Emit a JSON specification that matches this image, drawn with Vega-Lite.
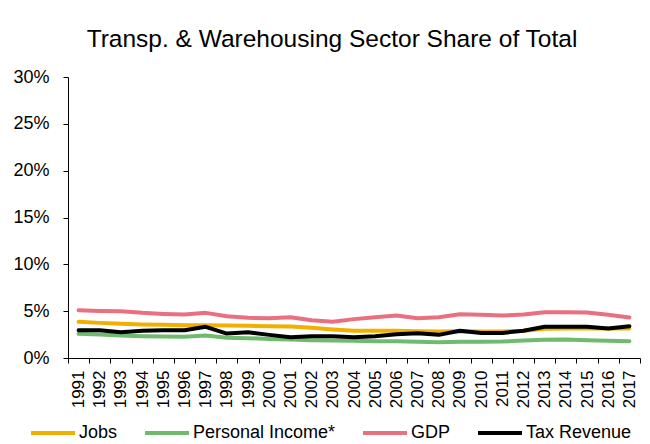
{
  "$schema": "https://vega.github.io/schema/vega-lite/v6.json",
  "width": 572,
  "height": 281,
  "autosize": "none",
  "padding": {"left": 68, "top": 77, "right": 10, "bottom": 86},
  "background": "white",
  "title": {
    "text": "Transp. & Warehousing Sector Share of Total",
    "font": "Liberation Sans",
    "fontSize": 24.5,
    "fontWeight": "normal",
    "color": "black",
    "anchor": "middle",
    "dx": -22,
    "offset": 16
  },
  "datasets": {
    "wide": [
      {"year": "1991", "Jobs": 0.0386, "PI": 0.0258, "GDP": 0.0510, "Tax": 0.0297},
      {"year": "1992", "Jobs": 0.0375, "PI": 0.0251, "GDP": 0.0503, "Tax": 0.0297},
      {"year": "1993", "Jobs": 0.0365, "PI": 0.0240, "GDP": 0.0500, "Tax": 0.0275},
      {"year": "1994", "Jobs": 0.0358, "PI": 0.0233, "GDP": 0.0482, "Tax": 0.0290},
      {"year": "1995", "Jobs": 0.0354, "PI": 0.0229, "GDP": 0.0471, "Tax": 0.0297},
      {"year": "1996", "Jobs": 0.0350, "PI": 0.0226, "GDP": 0.0464, "Tax": 0.0297},
      {"year": "1997", "Jobs": 0.0350, "PI": 0.0240, "GDP": 0.0482, "Tax": 0.0333},
      {"year": "1998", "Jobs": 0.0347, "PI": 0.0215, "GDP": 0.0446, "Tax": 0.0261},
      {"year": "1999", "Jobs": 0.0343, "PI": 0.0212, "GDP": 0.0429, "Tax": 0.0275},
      {"year": "2000", "Jobs": 0.0340, "PI": 0.0204, "GDP": 0.0425, "Tax": 0.0247},
      {"year": "2001", "Jobs": 0.0336, "PI": 0.0197, "GDP": 0.0436, "Tax": 0.0222},
      {"year": "2002", "Jobs": 0.0322, "PI": 0.0190, "GDP": 0.0404, "Tax": 0.0233},
      {"year": "2003", "Jobs": 0.0304, "PI": 0.0187, "GDP": 0.0386, "Tax": 0.0233},
      {"year": "2004", "Jobs": 0.0290, "PI": 0.0183, "GDP": 0.0415, "Tax": 0.0222},
      {"year": "2005", "Jobs": 0.0290, "PI": 0.0180, "GDP": 0.0436, "Tax": 0.0233},
      {"year": "2006", "Jobs": 0.0290, "PI": 0.0180, "GDP": 0.0454, "Tax": 0.0254},
      {"year": "2007", "Jobs": 0.0286, "PI": 0.0173, "GDP": 0.0425, "Tax": 0.0265},
      {"year": "2008", "Jobs": 0.0283, "PI": 0.0169, "GDP": 0.0436, "Tax": 0.0247},
      {"year": "2009", "Jobs": 0.0286, "PI": 0.0173, "GDP": 0.0468, "Tax": 0.0290},
      {"year": "2010", "Jobs": 0.0283, "PI": 0.0173, "GDP": 0.0461, "Tax": 0.0268},
      {"year": "2011", "Jobs": 0.0283, "PI": 0.0176, "GDP": 0.0454, "Tax": 0.0268},
      {"year": "2012", "Jobs": 0.0290, "PI": 0.0187, "GDP": 0.0464, "Tax": 0.0290},
      {"year": "2013", "Jobs": 0.0311, "PI": 0.0194, "GDP": 0.0489, "Tax": 0.0333},
      {"year": "2014", "Jobs": 0.0315, "PI": 0.0197, "GDP": 0.0489, "Tax": 0.0333},
      {"year": "2015", "Jobs": 0.0318, "PI": 0.0190, "GDP": 0.0486, "Tax": 0.0333},
      {"year": "2016", "Jobs": 0.0315, "PI": 0.0183, "GDP": 0.0461, "Tax": 0.0315},
      {"year": "2017", "Jobs": 0.0315, "PI": 0.0180, "GDP": 0.0432, "Tax": 0.0340}
    ]
  },
  "data": {"name": "wide"},
  "transform": [
    {"fold": ["Jobs", "PI", "GDP", "Tax"], "as": ["key", "value"]},
    {"lookup": "key", "from": {"data": {"values": [
      {"key": "Jobs", "series": "Jobs"},
      {"key": "PI", "series": "Personal Income*"},
      {"key": "GDP", "series": "GDP"},
      {"key": "Tax", "series": "Tax Revenue"}
    ]}, "key": "key", "fields": ["series"]}}
  ],
  "mark": {"type": "line", "strokeJoin": "round", "strokeCap": "round"},
  "encoding": {
    "x": {
      "field": "year",
      "type": "ordinal",
      "scale": {"type": "band", "paddingInner": 0, "paddingOuter": 0},
      "axis": {
        "title": null,
        "labelAngle": -90,
        "labelFontSize": 17,
        "tickBand": "extent",
        "tickSize": 5,
        "labelPadding": 7
      }
    },
    "y": {
      "field": "value",
      "type": "quantitative",
      "scale": {"domain": [0, 0.3], "nice": false},
      "axis": {
        "title": null,
        "values": [0, 0.05, 0.1, 0.15, 0.2, 0.25, 0.3],
        "format": ".0%",
        "grid": false,
        "labelFontSize": 18,
        "tickSize": 5,
        "labelPadding": 14
      }
    },
    "color": {
      "field": "series",
      "type": "nominal",
      "scale": {
        "domain": ["Jobs", "Personal Income*", "GDP", "Tax Revenue"],
        "range": ["#F2AF00", "#6EBB6E", "#E8707F", "#000000"]
      },
      "legend": {
        "title": null,
        "orient": "none",
        "direction": "horizontal",
        "legendX": -39,
        "legendY": 332,
        "symbolType": "stroke",
        "symbolSize": 1936,
        "symbolStrokeWidth": 5,
        "labelFontSize": 18,
        "labelOffset": 2,
        "columnPadding": 19,
        "labelFont": "Liberation Sans",
        "labelColor": "black"
      }
    },
    "strokeWidth": {
      "field": "series",
      "type": "nominal",
      "scale": {
        "domain": ["Jobs", "Personal Income*", "GDP", "Tax Revenue"],
        "range": [4, 4, 4, 5]
      },
      "legend": null
    },
    "order": {"field": "year"}
  },
  "config": {
    "font": "Liberation Sans",
    "view": {"stroke": null},
    "axis": {
      "labelFont": "Liberation Sans",
      "labelColor": "black",
      "domainColor": "black",
      "tickColor": "black",
      "domainWidth": 1,
      "tickWidth": 1
    }
  }
}
